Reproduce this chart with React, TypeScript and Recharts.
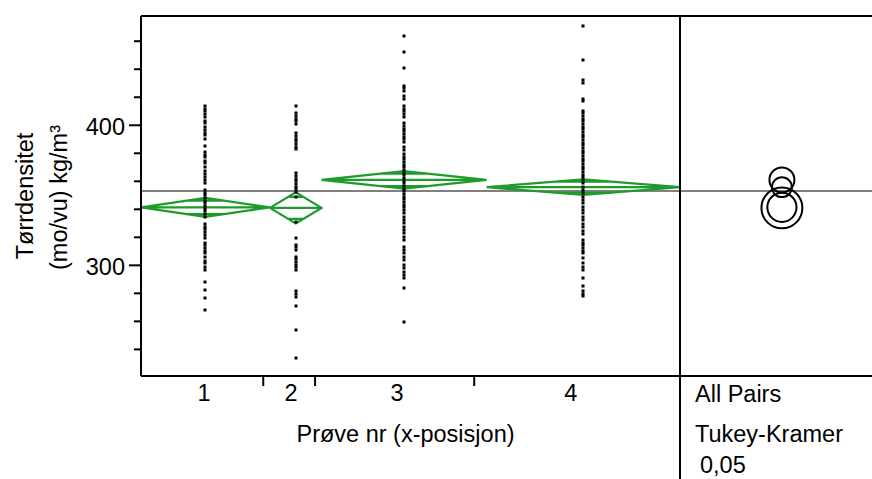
import React from 'react';
import { ComposedChart, Line, Scatter, XAxis, YAxis, ReferenceLine } from 'recharts';

// ---------- data ----------
const groupLabels = ['1', '2', '3', '4'];
const groupSizes = [50, 20, 64, 75];
const groupMeans = [341.4, 341.0, 361.0, 355.8];
const groupCI = [6.8, 11.1, 6.3, 5.5];
const comparisonRadius = [10.4, 14.6, 8.9, 7.1];
const grandMean = 353.0;

const xTickBounds = [47.4, 67.5, 129.2];
const xLabelPos = [24.4, 58.2, 99.3, 166.7];
const yTicks = [240, 260, 280, 300, 320, 340, 360, 380, 400, 420, 440, 460];
const yLabeled = [300, 400];

const group1Values = [413.8, 411.9, 410.0, 408.1, 406.2, 403.3, 401.4, 398.5, 396.6, 394.7, 392.8, 390.0, 385.2, 380.9, 379.0, 377.1, 374.7, 372.8, 370.0, 367.1, 365.2, 363.3, 360.9, 358.5, 353.8, 351.9, 350.0, 348.1, 346.2, 344.2, 342.3, 340.4, 338.5, 336.6, 334.7, 329.5, 327.6, 325.7, 323.8, 321.4, 319.5, 316.1, 314.2, 312.4, 310.4, 308.5, 306.2, 303.3, 301.4, 299.0, 296.6, 288.1, 282.3, 276.6, 268.0];
const group2Values = [413.8, 408.5, 406.6, 404.7, 402.8, 400.9, 394.2, 392.3, 390.4, 388.5, 386.6, 384.7, 382.8, 365.7, 363.8, 361.9, 360.0, 358.1, 356.2, 354.2, 352.3, 349.0, 331.2, 319.5, 314.7, 312.8, 310.9, 306.2, 304.2, 302.3, 300.4, 298.5, 296.6, 281.4, 279.5, 277.6, 270.9, 253.8, 233.8];
const group3Values = [463.8, 452.1, 440.7, 428.3, 426.4, 424.5, 420.7, 418.8, 413.8, 411.9, 410.0, 408.1, 406.2, 401.4, 399.5, 397.6, 395.7, 393.8, 391.9, 390.0, 388.1, 384.7, 382.4, 379.5, 377.6, 375.7, 373.8, 371.9, 370.0, 368.1, 366.2, 364.2, 362.3, 360.4, 358.5, 356.6, 354.7, 352.8, 350.9, 349.0, 347.1, 345.2, 343.3, 341.4, 339.5, 337.1, 334.7, 332.4, 330.0, 327.6, 325.2, 322.9, 320.4, 318.1, 313.3, 310.9, 308.5, 306.2, 303.8, 300.2, 297.8, 295.4, 293.1, 290.7, 283.8, 259.5];
const group4Values = [470.9, 446.6, 432.3, 430.4, 419.0, 417.1, 410.4, 408.5, 406.6, 404.7, 402.8, 400.9, 399.0, 397.1, 395.2, 393.3, 391.4, 389.5, 387.6, 385.7, 383.8, 381.9, 380.0, 378.1, 376.2, 374.2, 372.3, 370.4, 368.5, 366.6, 364.7, 362.8, 360.9, 358.5, 356.2, 353.8, 351.4, 349.0, 346.6, 344.2, 341.9, 339.5, 337.1, 334.7, 332.4, 329.5, 327.1, 324.8, 322.4, 318.1, 316.2, 314.3, 312.4, 310.5, 308.5, 305.0, 301.4, 299.0, 296.6, 290.7, 285.2, 281.9, 279.5, 278.1];
const groupValues = [group1Values, group2Values, group3Values, group4Values];

// ---------- layout / style ----------
const Y_MIN = 221;
const Y_MAX = 478;
const W = 872;
const H = 479;
const TOP = 16;
const X_AXIS_H = 103;
const PLOT_H = H - TOP - X_AXIS_H;
const PX_PER_UNIT = PLOT_H / (Y_MAX - Y_MIN);
const FONT = 'Liberation Sans, Arial, Helvetica, sans-serif';
const FS = 23.5;
const GREEN = '#1e9b2a';
const GRAY = '#808080';
const OVERLAP_FRAC = 0.283;
const CIRCLE_X = 0.49;

const totalN = groupSizes.reduce((a, b) => a + b, 0);
const cum: number[] = [0];
groupSizes.forEach((n, i) => cum.push(cum[i] + n));

const diamondData = (i: number) => {
  const L = cum[i];
  const R = cum[i + 1];
  const C = (L + R) / 2;
  const m = groupMeans[i];
  const c = groupCI[i];
  const hw = ((R - L) / 2) * OVERLAP_FRAC;
  const o = c / Math.SQRT2;
  return [
    { x: L, y: m }, { x: C, y: m + c }, { x: R, y: m }, { x: C, y: m - c }, { x: L, y: m },
    { x: L, y: null },
    { x: L, y: m }, { x: R, y: m },
    { x: R, y: null },
    { x: C - hw, y: m + o }, { x: C + hw, y: m + o },
    { x: C + hw, y: null },
    { x: C - hw, y: m - o }, { x: C + hw, y: m - o },
  ];
};

const pointData = (i: number) => {
  const C = (cum[i] + cum[i + 1]) / 2;
  return groupValues[i].map((v) => ({ x: C, y: v }));
};

const circleData = groupMeans.map((m, i) => ({ x: CIRCLE_X, y: m, r: comparisonRadius[i] }));

const xTicksAll = [...xTickBounds, ...xLabelPos].sort((a, b) => a - b);

const YTick = (props: any) => {
  const { x, y, payload } = props;
  const major = yLabeled.includes(payload.value);
  return (
    <g>
      <line x1={x - (major ? 12 : 7)} x2={x} y1={y} y2={y} stroke="#000" strokeWidth={2} />
      {major && (
        <text x={x - 16} y={y + 10} textAnchor="end" fontSize={FS} fontFamily={FONT} fill="#000">
          {payload.value}
        </text>
      )}
    </g>
  );
};

const XTick = (props: any) => {
  const { x, y, payload } = props;
  const li = xLabelPos.indexOf(payload.value);
  if (li >= 0) {
    return (
      <text x={x} y={y + 25} textAnchor="middle" fontSize={FS} fontFamily={FONT} fill="#000">
        {groupLabels[li]}
      </text>
    );
  }
  return <line x1={x} x2={x} y1={y} y2={y + 10} stroke="#000" strokeWidth={2} />;
};

const YTitle = (props: any) => {
  const vb = props.viewBox || { x: 0, y: TOP, width: 141, height: PLOT_H };
  const cy = vb.y + vb.height / 2;
  const x1 = vb.x + 32.5;
  const x2 = vb.x + 66.5;
  return (
    <g>
      <text x={x1} y={cy} transform={`rotate(-90, ${x1}, ${cy})`} textAnchor="middle" fontSize={FS} fontFamily={FONT} fill="#000">
        Tørrdensitet
      </text>
      <text x={x2} y={cy + 1.5} transform={`rotate(-90, ${x2}, ${cy + 1.5})`} textAnchor="middle" fontSize={FS} fontFamily={FONT} fill="#000">
        (mo/vu) kg/m³
      </text>
    </g>
  );
};

const XTitle = (props: any) => {
  const vb = props.viewBox || { x: 141, y: 376, width: 539, height: X_AXIS_H };
  return (
    <text x={vb.x + vb.width / 2 - 5} y={vb.y + 66} textAnchor="middle" fontSize={FS} fontFamily={FONT} fill="#000">
      Prøve nr (x-posisjon)
    </text>
  );
};

const RightTitle = (props: any) => {
  const vb = props.viewBox || { x: 680, y: 376, width: 200, height: X_AXIS_H };
  return (
    <g fontSize={FS} fontFamily={FONT} fill="#000">
      <text x={vb.x + 15} y={vb.y + 26}>All Pairs</text>
      <text x={vb.x + 15} y={vb.y + 66}>Tukey-Kramer</text>
      <text x={vb.x + 20} y={vb.y + 97}>0,05</text>
    </g>
  );
};

const PointShape = (props: any) => {
  const { cx, cy } = props;
  return <rect x={Math.round(cx) - 1.5} y={Math.round(cy) - 1.5} width={3} height={3} fill="#000" />;
};

const CircleShape = (props: any) => {
  const { cx, cy, payload } = props;
  return <circle cx={cx} cy={cy} r={payload.r * PX_PER_UNIT} fill="none" stroke="#000" strokeWidth={2} />;
};

export default function App() {
  return (
    <>
      <style>{`body{margin:0;overflow:hidden;background:#fff}`}</style>
      <div style={{ position: 'relative', width: W, height: H, overflow: 'hidden', background: '#fff' }}>
        <div style={{ position: 'absolute', left: 0, top: 0 }}>
          <ComposedChart width={688} height={H} margin={{ top: TOP, right: 8, left: 0, bottom: 0 }}>
            <XAxis
              type="number"
              dataKey="x"
              domain={[0, totalN]}
              ticks={xTicksAll}
              interval={0}
              tickSize={0}
              tickMargin={0}
              tickLine={false}
              tick={<XTick />}
              axisLine={{ stroke: '#000', strokeWidth: 2 }}
              height={X_AXIS_H}
              allowDataOverflow
              label={{ content: XTitle }}
            />
            <YAxis
              type="number"
              dataKey="y"
              domain={[Y_MIN, Y_MAX]}
              ticks={yTicks}
              interval={0}
              tickSize={0}
              tickMargin={0}
              tickLine={false}
              tick={<YTick />}
              axisLine={{ stroke: '#000', strokeWidth: 2 }}
              width={141}
              allowDataOverflow
              label={{ content: YTitle }}
            />
            <ReferenceLine y={grandMean} stroke={GRAY} strokeWidth={2} />
            <ReferenceLine y={Y_MAX} stroke="#000" strokeWidth={2} />
            {groupSizes.map((_, i) => (
              <Line
                key={'d' + i}
                data={diamondData(i)}
                dataKey="y"
                type="linear"
                stroke={GREEN}
                strokeWidth={2.2}
                dot={false}
                activeDot={false}
                connectNulls={false}
                isAnimationActive={false}
              />
            ))}
            {groupSizes.map((_, i) => (
              <Scatter
                key={'p' + i}
                data={pointData(i)}
                dataKey="y"
                shape={PointShape}
                isAnimationActive={false}
              />
            ))}
          </ComposedChart>
        </div>
        <div style={{ position: 'absolute', left: 678, top: 0 }}>
          <ComposedChart width={210} height={H} margin={{ top: TOP, right: 0, left: 2, bottom: 0 }}>
            <XAxis
              type="number"
              dataKey="x"
              domain={[0, 1]}
              tick={false}
              tickLine={false}
              axisLine={{ stroke: '#000', strokeWidth: 2 }}
              height={X_AXIS_H}
              label={{ content: RightTitle }}
            />
            <YAxis type="number" dataKey="y" domain={[Y_MIN, Y_MAX]} hide allowDataOverflow />
            <ReferenceLine y={grandMean} stroke={GRAY} strokeWidth={2} />
            <ReferenceLine y={Y_MAX} stroke="#000" strokeWidth={2} />
            <ReferenceLine
              segment={[{ x: 0, y: Y_MIN - 80 }, { x: 0, y: Y_MAX }]}
              ifOverflow="visible"
              stroke="#000"
              strokeWidth={2}
            />
            <Scatter data={circleData} dataKey="y" shape={CircleShape} isAnimationActive={false} />
          </ComposedChart>
        </div>
      </div>
    </>
  );
}
